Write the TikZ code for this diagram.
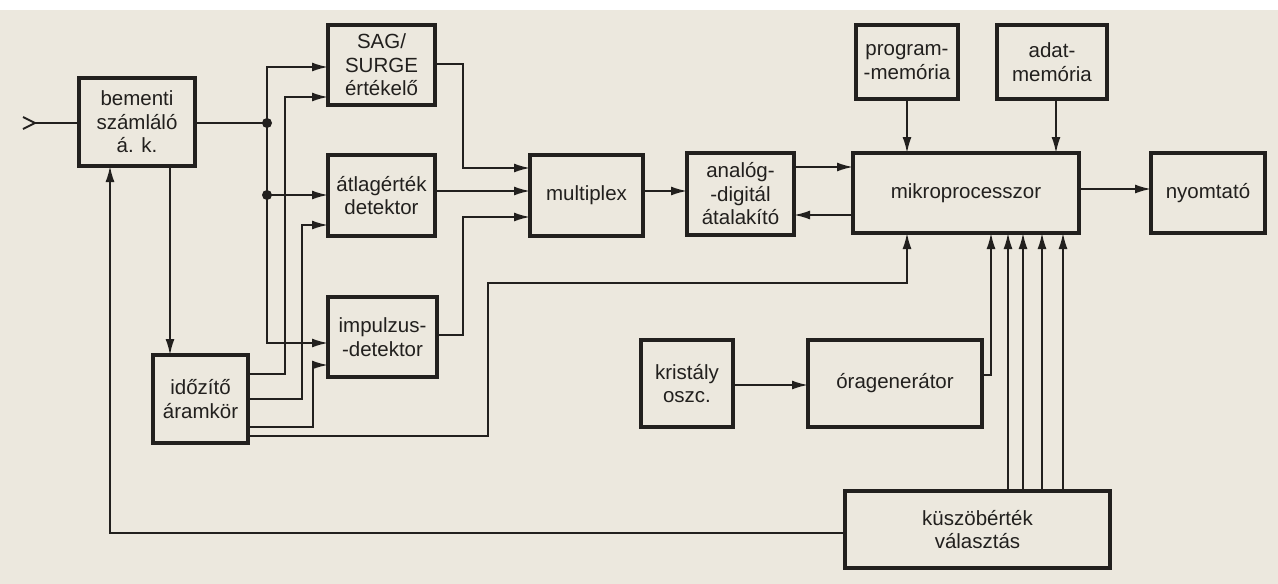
\documentclass[tikz,border=0pt]{standalone}
\usepackage{fontspec}
\setmainfont{Liberation Sans}
\usetikzlibrary{arrows.meta,calc}
\definecolor{paper}{RGB}{236,232,222}
\definecolor{ink}{RGB}{34,32,30}
\tikzset{
  blk/.style={draw=ink, line width=3.2pt, rectangle, inner sep=0pt, outer sep=0pt, align=center,
    text=ink, font=\fontsize{20.5}{23.5}\selectfont},
  wire/.style={draw=ink, line width=1.9pt},
  arr/.style={wire, -{Latex[length=16pt,width=9pt]}},
}
\begin{document}
\begin{tikzpicture}[x=1pt,y=-1pt]
\useasboundingbox (0,0) rectangle (1278,584);
\fill[white] (0,0) rectangle (1278,584);
\fill[paper] (0,10) rectangle (1278,584);
% blocks
\node[blk, minimum width=116pt, minimum height=88pt] (bem) at (137,122) {bementi\\számláló\\á. k.};
\node[blk, minimum width=107pt, minimum height=80pt] (sag) at (381.5,65) {SAG/\\SURGE\\értékelő};
\node[blk, minimum width=107pt, minimum height=81pt] (atl) at (381.5,195.5) {átlagérték\\detektor};
\node[blk, minimum width=109pt, minimum height=80pt] (imp) at (382.5,337) {impulzus-\\-detektor};
\node[blk, minimum width=95pt, minimum height=88pt] (ido) at (200.5,399) {időzítő\\áramkör};
\node[blk, minimum width=113pt, minimum height=81pt] (mux) at (586.5,195.5) {multiplex};
\node[blk, minimum width=107pt, minimum height=82pt] (adc) at (740.5,194) {analóg-\\-digitál\\átalakító};
\node[blk, minimum width=102pt, minimum height=74pt] (prg) at (907,62) {program-\\-memória};
\node[blk, minimum width=110pt, minimum height=74pt] (dat) at (1052,62) {adat-\\memória};
\node[blk, minimum width=226pt, minimum height=80pt] (mik) at (966,193) {mikroprocesszor};
\node[blk, minimum width=114pt, minimum height=80pt] (nyo) at (1208,193) {nyomtató};
\node[blk, minimum width=92pt, minimum height=87pt] (kri) at (687,383.5) {kristály\\oszc.};
\node[blk, minimum width=174pt, minimum height=87pt] (ora) at (895,383.5) {óragenerátor};
\node[blk, minimum width=265pt, minimum height=77pt] (kus) at (977.5,529.5) {küszöbérték\\választás};
% junctions and bends
\coordinate (inp) at (35,123);
\coordinate (d1) at (267,123);
\coordinate (d2) at (267,195);
\coordinate (b1) at (285,97);
\coordinate (b2) at (302,225);
\coordinate (b3) at (313,365);
\coordinate (b4) at (488,283);
\coordinate (b5) at (463,168);
\coordinate (b6) at (463,217);
% input symbol
\draw[wire] (23,117) -- (inp) -- (23,129);
\draw[wire] (inp) -- (bem.west |- inp);
\draw[wire] (bem.east |- d1) -- (d1);
\fill[ink] (d1) circle (5pt);
\fill[ink] (d2) circle (5pt);
\draw[arr] (d1) |- (sag.west |- 0,67);
\draw[arr] (d1) |- (imp.west |- 0,343);
\draw[arr] (d2) -- (atl.west |- d2);
% timer outputs
\draw[arr] (ido.east |- 0,374) -| (b1) -- (sag.west |- b1);
\draw[arr] (ido.east |- 0,399) -| (b2) -- (atl.west |- b2);
\draw[arr] (ido.east |- 0,427) -| (b3) -- (imp.west |- b3);
\draw[arr] (ido.east |- 0,436) -| (b4) -| (mik.south -| 907,0);
% counter to timer, feedback
\draw[arr] (bem.south -| 170,0) -- (ido.north -| 170,0);
\draw[arr] (kus.west |- 0,533) -| (bem.south -| 110,0);
% to multiplex
\draw[arr] (sag.east |- 0,64) -| (b5) -- (mux.west |- b5);
\draw[arr] (atl.east |- 0,191) -- (mux.west |- 0,191);
\draw[arr] (imp.east |- 0,335) -| (b6) -- (mux.west |- b6);
\draw[arr] (mux.east |- 0,191) -- (adc.west |- 0,191);
\draw[arr] (adc.east |- 0,167) -- (mik.west |- 0,167);
\draw[arr] (mik.west |- 0,215) -- (adc.east |- 0,215);
% memories, printer
\draw[arr] (prg.south) -- (mik.north -| prg.south);
\draw[arr] (dat.south -| 1056,0) -- (mik.north -| 1056,0);
\draw[arr] (mik.east |- 0,189) -- (nyo.west |- 0,189);
% clock
\draw[arr] (kri.east |- 0,385) -- (ora.west |- 0,385);
\draw[arr] (ora.east |- 0,375) -| (mik.south -| 991,0);
% threshold lines
\foreach \xx in {1008,1023,1042,1063}
  \draw[arr] (kus.north -| \xx,0) -- (mik.south -| \xx,0);
\end{tikzpicture}
\end{document}
